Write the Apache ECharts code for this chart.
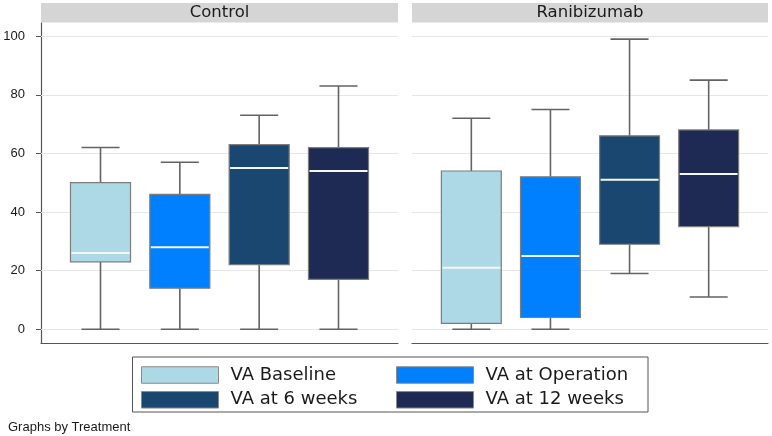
<!DOCTYPE html>
<html>
<head>
<meta charset="utf-8">
<script src="https://cdn.jsdelivr.net/npm/echarts@6/dist/echarts.min.js"></script>
<style>
  html, body { margin: 0; padding: 0; background: #fff; }
  #main { width: 772px; height: 436px; }
</style>
</head>
<body>
<div id="main"></div>
<script>
var categories = ['VA Baseline', 'VA at Operation', 'VA at 6 weeks', 'VA at 12 weeks'];
var panels = ['Control', 'Ranibizumab'];
// each row: [min, q1, median, q3, max]
var controlStats = [
    [0, 23, 26, 50, 62],
    [0, 14, 28, 46, 57],
    [0, 22, 55, 63, 73],
    [0, 17, 54, 62, 83]
];
var ranibizumabStats = [
    [0, 2, 21, 54, 72],
    [0, 4, 25, 52, 75],
    [19, 29, 51, 66, 99],
    [11, 35, 53, 68, 85]
];
var yTicks = [0, 20, 40, 60, 80, 100];
var boxColors = ['#ADD8E6', '#0080FF', '#1A476F', '#1E2A53'];

var myChart = echarts.init(document.getElementById('main'));

var panelStats = [controlStats, ranibizumabStats];
var gridRects = [
    { left: 41, top: 23, width: 357, height: 320 },
    { left: 412, top: 23, width: 356, height: 320 }
];

function renderBox(params, api) {
    var x = api.value(0);
    var lo = api.coord([x, api.value(1)]);
    var q1 = api.coord([x, api.value(2)]);
    var med = api.coord([x, api.value(3)]);
    var q3 = api.coord([x, api.value(4)]);
    var hi = api.coord([x, api.value(5)]);
    var half = api.size([0.757, 0])[0] / 2;
    var cap = api.size([0.48, 0])[0] / 2;
    var cx = q1[0];
    var wStyle = { stroke: '#636363', lineWidth: 1.6 };
    return {
        type: 'group',
        children: [
            { type: 'line', shape: { x1: cx, y1: hi[1], x2: cx, y2: q3[1] }, style: wStyle },
            { type: 'line', shape: { x1: cx - cap, y1: hi[1], x2: cx + cap, y2: hi[1] }, style: wStyle },
            { type: 'line', shape: { x1: cx, y1: q1[1], x2: cx, y2: lo[1] }, style: wStyle },
            { type: 'line', shape: { x1: cx - cap, y1: lo[1], x2: cx + cap, y2: lo[1] }, style: wStyle },
            {
                type: 'rect',
                shape: { x: cx - half, y: q3[1], width: half * 2, height: q1[1] - q3[1] },
                style: { fill: api.visual('color'), stroke: '#7d7d7d', lineWidth: 1.2 }
            },
            {
                type: 'line',
                shape: { x1: cx - half + 1, y1: med[1], x2: cx + half - 1, y2: med[1] },
                style: { stroke: '#f4f8fb', lineWidth: 2 }
            }
        ]
    };
}

var grids = [], xAxes = [], yAxes = [], series = [];
panels.forEach(function (p, pi) {
    grids.push(gridRects[pi]);
    xAxes.push({
        type: 'value', gridIndex: pi, min: -0.75, max: 3.75,
        axisLine: { show: true, onZero: false, lineStyle: { color: '#555', width: 1.2 } },
        axisTick: { show: false }, axisLabel: { show: false }, splitLine: { show: false }
    });
    yAxes.push({
        type: 'value', gridIndex: pi, min: -4.7, max: 104.5,
        axisLine: { show: pi === 0, onZero: false, lineStyle: { color: '#555', width: 1.2 } },
        axisTick: { show: pi === 0, length: 5, customValues: yTicks, lineStyle: { color: '#555' } },
        axisLabel: {
            show: pi === 0, customValues: yTicks, margin: 16,
            fontFamily: 'Liberation Sans', fontSize: 13, color: '#1a1a1a'
        },
        splitLine: { show: false }
    });
    categories.forEach(function (c, ci) {
        var s = panelStats[pi][ci];
        var item = {
            name: c,
            type: 'custom',
            xAxisIndex: pi,
            yAxisIndex: pi,
            itemStyle: { color: boxColors[ci] },
            renderItem: renderBox,
            encode: { x: 0, y: [1, 2, 3, 4, 5] },
            data: [[ci, s[0], s[1], s[2], s[3], s[4]]],
            z: 3
        };
        if (ci === 0) {
            item.markLine = {
                silent: true,
                symbol: 'none',
                label: { show: false },
                lineStyle: { color: '#e6e6e6', width: 1, type: 'solid' },
                data: yTicks.map(function (t) { return { yAxis: t }; }),
                z: 1
            };
        }
        series.push(item);
    });
});

var legendBase = {
    orient: 'vertical', top: 366, padding: 0,
    itemWidth: 77, itemHeight: 16.5, itemGap: 6.8, icon: 'rect',
    itemStyle: { borderColor: '#8a8a8a', borderWidth: 1 },
    textStyle: { fontFamily: 'DejaVu Sans', fontSize: 18, color: '#1a1a1a', padding: [0, 0, 0, 7] },
    selectedMode: false
};

var option = {
    animation: false,
    backgroundColor: '#fff',
    grid: grids,
    xAxis: xAxes,
    yAxis: yAxes,
    legend: [
        Object.assign({}, legendBase, { left: 141, data: [categories[0], categories[2]] }),
        Object.assign({}, legendBase, { left: 396, data: [categories[1], categories[3]] })
    ],
    graphic: [
        { type: 'rect', shape: { x: 41, y: 3, width: 357, height: 19.5 }, style: { fill: '#d5d5d5' } },
        { type: 'text', x: 219.5, y: 12.5, style: { text: panels[0], fill: '#1a1a1a', font: '16.5px "DejaVu Sans"', align: 'center', verticalAlign: 'middle' } },
        { type: 'rect', shape: { x: 412, y: 3, width: 356, height: 19.5 }, style: { fill: '#d5d5d5' } },
        { type: 'text', x: 590, y: 12.5, style: { text: panels[1], fill: '#1a1a1a', font: '16.5px "DejaVu Sans"', align: 'center', verticalAlign: 'middle' } },
        { type: 'rect', shape: { x: 132.5, y: 357, width: 515.5, height: 55 }, style: { fill: 'none', stroke: '#555', lineWidth: 1 } },
        { type: 'text', x: 8, y: 427, style: { text: 'Graphs by Treatment', fill: '#1a1a1a', font: '13px "Liberation Sans"', verticalAlign: 'middle' } }
    ],
    series: series
};
myChart.setOption(option);
</script>
</body>
</html>
